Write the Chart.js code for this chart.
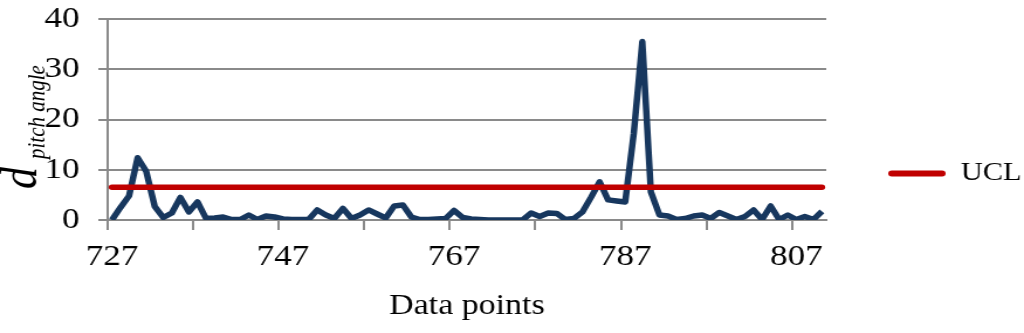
<!DOCTYPE html>
<html>
<head>
<meta charset="utf-8">
<script src="https://cdn.jsdelivr.net/npm/chart.js@4/dist/chart.umd.min.js"></script>
<style>
html,body{margin:0;padding:0;background:#ffffff;overflow:hidden}
#c{display:block}
</style>
</head>
<body>
<canvas id="c" width="875" height="333" style="width:1024px;height:333px"></canvas>
<script>
// ---- data ----
const categories = [727,728,729,730,731,732,733,734,735,736,
  737,738,739,740,741,742,743,744,745,746,
  747,748,749,750,751,752,753,754,755,756,
  757,758,759,760,761,762,763,764,765,766,
  767,768,769,770,771,772,773,774,775,776,
  777,778,779,780,781,782,783,784,785,786,
  787,788,789,790,791,792,793,794,795,796,
  797,798,799,800,801,802,803,804,805,806,
  807,808,809,810];
const dPitchAngle = [0, 2.5, 4.8, 12.4, 9.7, 2.7, 0.5, 1.4, 4.5, 1.6,
  3.6, 0.3, 0.4, 0.6, 0.1, 0.1, 1.0, 0.1, 0.8, 0.6,
  0.2, 0.1, 0.1, 0.1, 2.0, 1.0, 0.3, 2.3, 0.3, 1.0,
  2.0, 1.2, 0.4, 2.8, 3.0, 0.6, 0.1, 0.1, 0.2, 0.3,
  1.9, 0.5, 0.2, 0.1, 0.0, 0.0, 0.0, 0.0, 0.0, 1.4,
  0.7, 1.4, 1.3, 0.1, 0.3, 1.6, 4.5, 7.6, 4.0, 3.8,
  3.6, 17.2, 35.5, 5.6, 1.0, 0.8, 0.1, 0.3, 0.8, 1.0,
  0.3, 1.5, 0.8, 0.1, 0.7, 2.0, 0.1, 2.8, 0.1, 1.0,
  0.1, 0.7, 0.1, 1.7];
const uclValue = 6.5;
const xTickLabels = ['727','747','767','787','807'];
const yTickValues = [0, 10, 20, 30, 40];

// ---- styling ----
const FONT = '"Liberation Serif", "Times New Roman", serif';
const GRID = '#8a8a8a';
const BLUE = '#17375E';
const RED = '#C00000';
const labels = categories.map(String);

const yTitlePlugin = {
  id: 'yTitle',
  afterDraw(chart) {
    const ctx = chart.ctx;
    ctx.save();
    ctx.translate(31, 189);
    ctx.rotate(-Math.PI / 2);
    ctx.fillStyle = '#000';
    ctx.textAlign = 'left';
    ctx.textBaseline = 'alphabetic';
    ctx.font = 'italic 44px ' + FONT;
    ctx.fillText('d', 0, 0);
    ctx.font = 'italic 21px ' + FONT;
    ctx.fillText('pitch angle', 30, 6.8);
    ctx.restore();
  }
};

new Chart(document.getElementById('c'), {
  type: 'line',
  data: {
    labels: labels,
    datasets: [
      {
        label: 'UCL',
        data: [{x: labels[0], y: uclValue}, {x: labels[labels.length - 1], y: uclValue}],
        borderColor: RED,
        backgroundColor: RED,
        borderWidth: 5.5,
        borderCapStyle: 'round',
        pointRadius: 0,
        fill: false,
        tension: 0,
        order: 0
      },
      {
        label: 'd pitch angle',
        data: dPitchAngle,
        borderColor: BLUE,
        backgroundColor: BLUE,
        borderWidth: 5.5,
        borderJoinStyle: 'round',
        borderCapStyle: 'butt',
        pointRadius: 0,
        fill: false,
        tension: 0,
        order: 1
      }
    ]
  },
  options: {
    responsive: false,
    animation: false,
    devicePixelRatio: 1,
    events: [],
    layout: { padding: 0 },
    plugins: {
      legend: {
        position: 'right',
        align: 'center',
        maxWidth: 169,
        title: { display: true, text: ' ', color: '#000', font: { size: 1 }, padding: { top: 13, bottom: 0 } },
        labels: {
          font: { family: FONT, size: 26 },
          color: '#000',
          boxWidth: 49,
          boxHeight: 6,
          padding: 53,
          generateLabels: () => [{
            text: 'UCL', fillStyle: RED, strokeStyle: RED, fontColor: '#000', lineWidth: 0,
            hidden: false, datasetIndex: 0, borderRadius: 3
          }]
        }
      },
      tooltip: { enabled: false }
    },
    scales: {
      x: {
        type: 'category',
        offset: true,
        afterFit: s => { s.height = 113; },
        grid: {
          display: true, offset: true, drawOnChartArea: false, drawTicks: true,
          tickLength: 10, lineWidth: 2,
          color: c => (c.index !== undefined && c.index % 10 === 0) ? GRID : 'rgba(0,0,0,0)'
        },
        border: { display: true, color: GRID, width: 2 },
        ticks: {
          autoSkip: false, maxRotation: 0, minRotation: 0, padding: 9,
          color: '#000', font: { family: FONT, size: 30 },
          callback: function (v) {
            const l = this.getLabelForValue(v);
            return xTickLabels.includes(l) ? l : '';
          }
        },
        title: {
          display: true, text: 'Data points', color: '#000',
          font: { family: FONT, size: 29 }, padding: { top: 0, bottom: 9 }
        }
      },
      y: {
        min: yTickValues[0],
        max: yTickValues[yTickValues.length - 1],
        afterFit: s => { s.width = 92; s.paddingTop = 19; s.paddingBottom = 0; },
        afterBuildTicks: s => { s.ticks = yTickValues.map(v => ({ value: v })); },
        grid: { color: GRID, lineWidth: 2, drawTicks: true, tickLength: 8 },
        border: { display: true, color: GRID, width: 2 },
        ticks: { padding: 16, color: '#000', font: { family: FONT, size: 30 } }
      }
    }
  },
  plugins: [yTitlePlugin]
});
</script>
</body>
</html>
